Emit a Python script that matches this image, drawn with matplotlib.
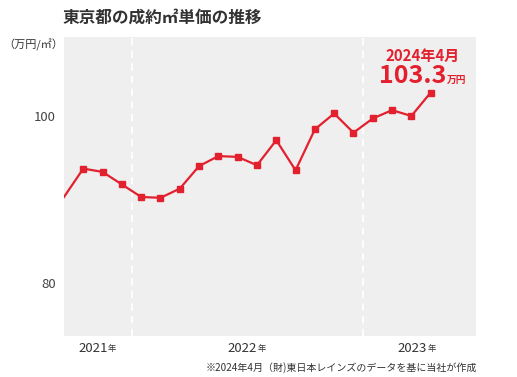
import numpy as np
import matplotlib.pyplot as plt

plt.rcParams['font.family'] = ['Noto Sans CJK JP', 'DejaVu Sans']

# monthly values, Sep -> Apr (20 months)
months = list(range(20))
price = [90.3, 93.7, 93.3, 91.8, 90.3, 90.2, 91.3, 94.0, 95.2, 95.1,
         94.1, 97.1, 93.5, 98.4, 100.3, 98.0, 99.7, 100.7, 100.0, 102.8]
year_labels = ['2021', '2022', '2023']
year_pos = [1.76, 9.5, 18.3]
year_breaks = [3.5, 15.5]
yticks = [80, 100]

red = '#e3202e'

fig = plt.figure(figsize=(5.17, 3.77), dpi=100)
ax = fig.add_axes([64 / 517, 1 - 336 / 377, 412 / 517, 299 / 377])
ax.set_facecolor('#efefef')

for b in year_breaks:
    ax.axvline(b, color='white', lw=1.3, ls=(0, (4, 3)), zorder=1)

ax.plot(months, price, color=red, lw=1.6, zorder=3)
ax.plot(months[1:], price[1:], ls='none', marker='s', ms=4.5, color=red, zorder=4)

ax.set_xlim(0, 21.35)
ax.set_ylim(73.65, 109.46)
ax.set_yticks(yticks)
ax.set_yticklabels([str(v) for v in yticks], fontsize=9.5, color='#444444')
ax.set_xticks([])
ax.tick_params(axis='y', length=0, pad=6)
for s in ax.spines.values():
    s.set_visible(False)

# year labels under the axis
for lab, p in zip(year_labels, year_pos):
    x = ax.transData.transform((p, 0))[0] / 517 + 10 / 517
    fig.text(x, 1 - 348 / 377, lab, fontsize=9.5, color='#333333', ha='right', va='center')
    fig.text(x, 1 - 349 / 377, '年', fontsize=6, color='#333333', ha='left', va='center')

fig.text(63 / 517, 1 - 18 / 377, '東京都の成約㎡単価の推移', fontsize=12, fontweight='bold',
         color='#333333', ha='left', va='center')
fig.text(3 / 517, 1 - 45 / 377, '（万円/㎡）', fontsize=8, color='#333333', ha='left', va='center')

fig.text(423 / 517, 1 - 61 / 377, '2024年4月', fontsize=10.8, fontweight='bold',
         color=red, ha='center', va='baseline')
fig.text(446 / 517, 1 - 83 / 377, '103.3', fontsize=18, fontweight='bold',
         color=red, ha='right', va='baseline')
fig.text(447 / 517, 1 - 83 / 377, '万円', fontsize=7, fontweight='bold',
         color=red, ha='left', va='baseline')

fig.text(477 / 517, 1 - 368 / 377, '※2024年4月（財)東日本レインズのデータを基に当社が作成',
         fontsize=7.2, color='#333333', ha='right', va='center')

fig.savefig('out.png', dpi=100)
